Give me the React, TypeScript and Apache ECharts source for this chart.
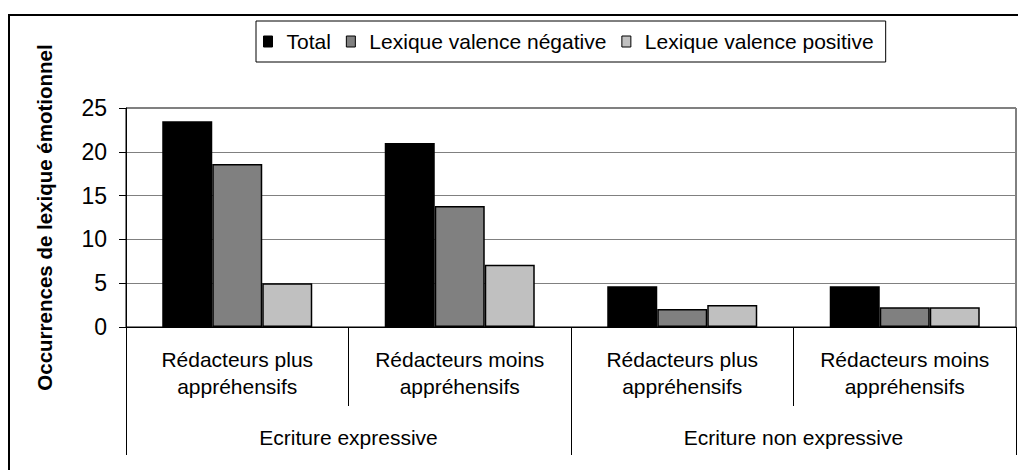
import React, { useEffect, useRef } from "react";
import * as echarts from "echarts";

const subCategories = [
  "Rédacteurs plus\nappréhensifs",
  "Rédacteurs moins\nappréhensifs",
  "Rédacteurs plus\nappréhensifs",
  "Rédacteurs moins\nappréhensifs",
];
const groupCategories = ["Ecriture expressive", "Ecriture non expressive"];
const seriesNames = ["Total", "Lexique valence négative", "Lexique valence positive"];
const totalValues = [23.5, 21.0, 4.65, 4.65];
const negativeValues = [18.6, 13.8, 2.05, 2.25];
const positiveValues = [5.0, 7.1, 2.5, 2.25];
const seriesColors = ["#000000", "#808080", "#c0c0c0"];
const yAxisName = "Occurrences de lexique émotionnel";

const FONT = "'Liberation Sans', Arial, sans-serif";

export default function App() {
  const ref = useRef<HTMLDivElement>(null);
  useEffect(() => {
    if (!ref.current) return;
    const chart = echarts.init(ref.current, null, { renderer: "svg" });
    const values = [totalValues, negativeValues, positiveValues];
    chart.setOption({
      animation: false,
      backgroundColor: "#ffffff",
      textStyle: { fontFamily: FONT, color: "#000" },
      graphic: [
        {
          type: "rect",
          shape: { x: 9, y: 15, width: 1030, height: 480 },
          style: { fill: "none", stroke: "#000", lineWidth: 2 },
          silent: true,
        },
      ],
      legend: {
        left: 256,
        top: 21,
        data: seriesNames,
        icon: "rect",
        itemWidth: 9,
        itemHeight: 11,
        itemGap: 15,
        padding: [10, 12, 10, 7],
        borderColor: "#000",
        borderWidth: 1,
        itemStyle: { borderColor: "#000", borderWidth: 1 },
        textStyle: { fontFamily: FONT, fontSize: 21, color: "#000", padding: [0, 0, 0, 9] },
      },
      grid: {
        left: 126,
        right: 2,
        top: 108,
        bottom: 143,
        show: true,
        borderColor: "#000",
        borderWidth: 1,
        backgroundColor: "transparent",
      },
      xAxis: [
        {
          type: "category",
          data: subCategories,
          position: "bottom",
          axisLine: { show: true, lineStyle: { color: "#000", width: 1 } },
          axisTick: { show: true, length: 79, lineStyle: { color: "#000" } },
          axisLabel: {
            fontFamily: FONT,
            fontSize: 21,
            color: "#000",
            lineHeight: 27,
            margin: 19,
            interval: 0,
          },
        },
        {
          type: "category",
          data: groupCategories,
          position: "bottom",
          axisLine: { show: false },
          axisTick: { show: true, length: 128, lineStyle: { color: "#000" } },
          axisLabel: {
            fontFamily: FONT,
            fontSize: 21,
            color: "#000",
            lineHeight: 21,
            margin: 100,
            interval: 0,
          },
        },
      ],
      yAxis: {
        type: "value",
        min: 0,
        max: 25,
        interval: 5,
        name: yAxisName,
        nameLocation: "middle",
        nameGap: 71,
        nameTextStyle: { fontFamily: FONT, fontSize: 20.5, fontWeight: "bold", color: "#000" },
        axisLine: { show: true, lineStyle: { color: "#000", width: 1 } },
        axisTick: { show: true, length: 7, lineStyle: { color: "#000" } },
        axisLabel: { fontFamily: FONT, fontSize: 23, color: "#000", margin: 19 },
        splitLine: { show: true, lineStyle: { color: "#808080", width: 1 } },
      },
      series: seriesNames.map((name, i) => ({
        name,
        type: "bar",
        xAxisIndex: 0,
        data: values[i],
        barWidth: 50,
        barGap: "0%",
        itemStyle: { color: seriesColors[i], borderColor: "#000", borderWidth: 1.5 },
      })),
    });
    return () => chart.dispose();
  }, []);
  return (
    <div
      ref={ref}
      style={{ position: "fixed", left: 0, top: 0, width: 1018, height: 470 }}
    />
  );
}
